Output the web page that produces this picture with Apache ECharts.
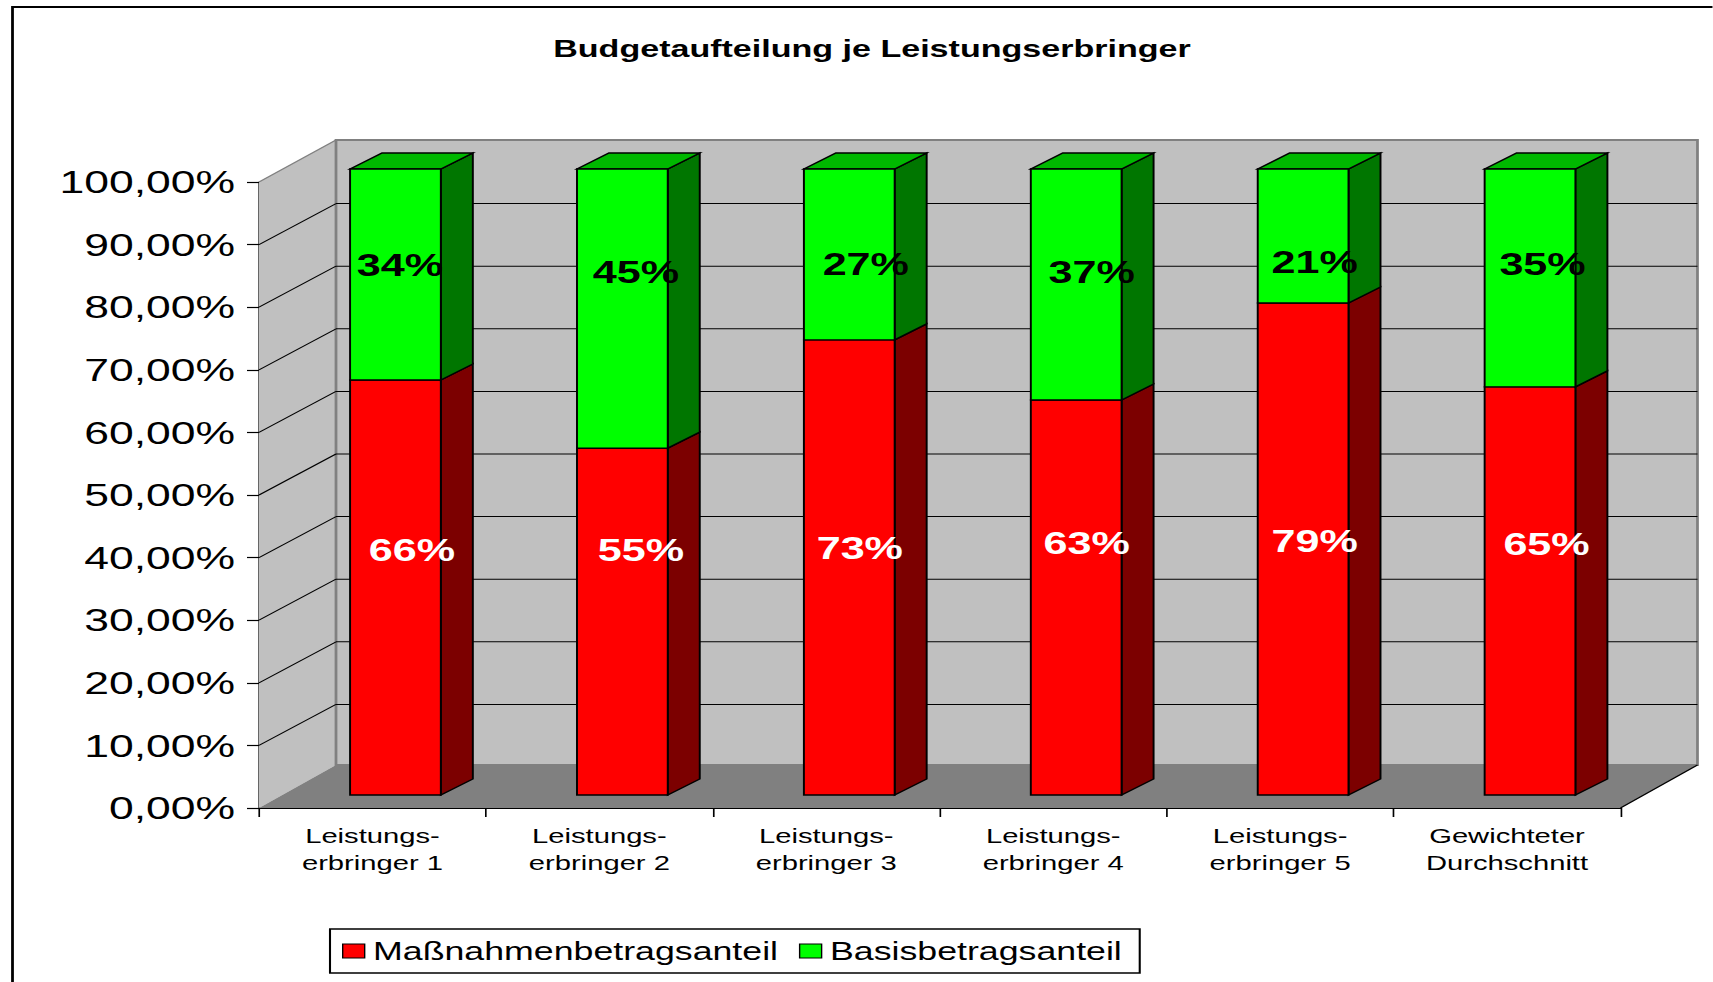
<!DOCTYPE html>
<html><head><meta charset="utf-8">
<style>
html,body{margin:0;padding:0;background:#fff;overflow:hidden;width:1713px;height:982px}
#chart{position:absolute;left:0;top:0;height:982px;transform-origin:0 0}
</style>
<script src="https://cdn.jsdelivr.net/npm/echarts@6/dist/echarts.min.js"></script>
</head><body><div id="chart"></div>
<script>
// --- data ---
const chartTitle = 'Budgetaufteilung je Leistungserbringer';
const categories = ['Leistungs-\nerbringer 1','Leistungs-\nerbringer 2','Leistungs-\nerbringer 3','Leistungs-\nerbringer 4','Leistungs-\nerbringer 5','Gewichteter\nDurchschnitt'];
const massnahmenValues = [66.3, 55.4, 72.7, 63.1, 78.6, 65.2];
const basisValues = [33.7, 44.6, 27.3, 36.9, 21.4, 34.8];
const yTicks = [10,20,30,40,50,60,70,80,90];
// --- label nudges relative to each segment's centre, in page pixels ---
const redNudgeX = [16.5,18.5,10.5,10.5,11.5,16.5];
const redNudgeY = [-37,-71,-19,-54,-8,-47];
const greenNudgeX = [4.5,13.5,16.5,15.5,11.5,12.5];
const greenNudgeY = [-9,-36,10,-12,26,-14];

// The reference is horizontally stretched: lay out in narrower space, widen with CSS.
const S = 1.39;
const px = v => v / S;
const el = document.getElementById('chart');
el.style.width = (1713 / S) + 'px';
el.style.transform = 'scaleX(' + S + ')';
const chart = echarts.init(el, null, {renderer:'svg'});

const WALL_DX = px(77), WALL_TOP_DY = -42, WALL_FLOOR_DY = -43, WALL_GRID_DY = -41;
const BAR_OX = px(23), BAR_OY = -13;
const BAR_DX = px(32), BAR_DY = -16;

function poly(points, fill, stroke, lw, z2){
  return {type:'polygon', shape:{points}, z2:z2||1, style:{fill, stroke:stroke||'none', lineWidth:lw||0}};
}
function line(a, b, stroke, lw, z2){
  return {type:'line', shape:{x1:a[0],y1:a[1],x2:b[0],y2:b[1]}, z2:z2||2, style:{stroke, lineWidth:lw||1}};
}

function renderWalls(params, api){
  const cs = params.coordSys;
  const x0 = cs.x, x1 = cs.x + cs.width;
  const y0 = api.coord([0,0])[1], y100 = api.coord([0,100])[1];
  const kids = [
    poly([[x0,y100],[x0+WALL_DX,y100+WALL_TOP_DY],[x0+WALL_DX,y0+WALL_FLOOR_DY],[x0,y0]],'#c0c0c0'),
    poly([[x0+WALL_DX,y100+WALL_TOP_DY],[x1+WALL_DX,y100+WALL_TOP_DY],[x1+WALL_DX,y0+WALL_FLOOR_DY],[x0+WALL_DX,y0+WALL_FLOOR_DY]],'#c0c0c0','#808080',2),
    poly([[x0,y0],[x1,y0],[x1+WALL_DX,y0+WALL_FLOOR_DY],[x0+WALL_DX,y0+WALL_FLOOR_DY]],'#808080'),
    line([x0,y100],[x0+WALL_DX,y100+WALL_TOP_DY],'#808080',1),
    line([x1,y0],[x1+WALL_DX,y0+WALL_FLOOR_DY],'#000',1)
  ];
  yTicks.forEach(t=>{
    const y = api.coord([0,t])[1];
    kids.push(line([x0,y],[x0+WALL_DX,y+WALL_GRID_DY],'#000',1));
    kids.push(line([x0+WALL_DX,y+WALL_GRID_DY],[x1+WALL_DX,y+WALL_GRID_DY],'#000',1));
  });
  return {type:'group', children:kids};
}

function makeBarRenderer(front, side, top, textColor, nudgeX, nudgeY, drawTop){
  return function(params, api){
    const i = api.value(0), a = api.value(1), b = api.value(2);
    const pa = api.coord([i,a]), pb = api.coord([i,b]);
    const w = api.size([1,0])[0]*0.4;
    const xl = pa[0]-w/2+BAR_OX, xr = xl+w;
    const yb = pa[1]+BAR_OY, yt = pb[1]+BAR_OY;
    const kids = [
      poly([[xr,yb],[xr+BAR_DX,yb+BAR_DY],[xr+BAR_DX,yt+BAR_DY],[xr,yt]],side,'#000',1.4,2),
      poly([[xl,yb],[xr,yb],[xr,yt],[xl,yt]],front,'#000',1.4,3)
    ];
    if(drawTop) kids.push(poly([[xl,yt],[xr,yt],[xr+BAR_DX,yt+BAR_DY],[xl+BAR_DX,yt+BAR_DY]],top,'#000',1.4,2));
    kids.push({type:'text', z2:10, style:{
      x:(xl+xr)/2+px(nudgeX[i]), y:(yb+yt)/2+nudgeY[i],
      text:Math.round(b-a)+'%', fill:textColor, align:'center', verticalAlign:'middle',
      font:'bold 31px "Liberation Sans", Arial, sans-serif'}});
    return {type:'group', children:kids};
  };
}

const redData = massnahmenValues.map((v,i)=>[i,0,v]);
const greenData = basisValues.map((v,i)=>[i,massnahmenValues[i],massnahmenValues[i]+v]);
const FONT = '"Liberation Sans", Arial, sans-serif';

chart.setOption({
  animation:false,
  backgroundColor:'#fff',
  title:{text:chartTitle, left:px(865), top:31, textAlign:'center',
    textStyle:{fontFamily:FONT, fontSize:24.5, fontWeight:'bold', color:'#000'}},
  legend:{
    data:['Maßnahmenbetragsanteil','Basisbetragsanteil'],
    left:px(330), top:929, orient:'horizontal',
    padding:[9,px(18),9,px(12)],
    itemWidth:px(22), itemHeight:14, itemGap:px(21),
    icon:'rect', borderColor:'#000', borderWidth:1.5,
    backgroundColor:'#fff',
    itemStyle:{borderColor:'#000', borderWidth:1},
    textStyle:{fontFamily:FONT, fontSize:25.7, color:'#000', padding:[0,0,0,1]}
  },
  grid:{left:px(259), right:px(92), top:182, bottom:174, containLabel:false},
  xAxis:{type:'category', data:categories, boundaryGap:true,
    axisLine:{show:true, lineStyle:{color:'#000', width:1.2}},
    axisTick:{show:true, length:9, alignWithLabel:false, lineStyle:{color:'#000', width:1.2}},
    axisLabel:{interval:0, fontFamily:FONT, fontSize:21, lineHeight:27, color:'#000', margin:14, hideOverlap:false},
    splitLine:{show:false}},
  yAxis:{type:'value', min:0, max:100, interval:10,
    axisLine:{show:true, lineStyle:{color:'#000', width:1.2}},
    axisTick:{show:true, length:px(12), lineStyle:{color:'#000', width:1.2}},
    axisLabel:{fontFamily:FONT, fontSize:32, color:'#000', margin:px(24),
      formatter:v=>v.toFixed(2).replace('.',',')+'%'},
    splitLine:{show:false}},
  graphic:[
    {type:'polyline', silent:true, z:100, shape:{points:[[px(12.5),982],[px(12.5),7],[1713/S,7]]},
     style:{stroke:'#000', lineWidth:2, fill:'none'}}
  ],
  series:[
    {type:'custom', name:'wall', silent:true, z:1, clip:false, data:[[0]], renderItem:renderWalls, encode:{x:0}},
    {type:'custom', name:'Maßnahmenbetragsanteil', z:2, clip:false, itemStyle:{color:'#ff0000'},
      data:redData, encode:{x:0,y:[1,2]},
      renderItem:makeBarRenderer('#ff0000','#7c0000','#7c0000','#fff',redNudgeX,redNudgeY,false)},
    {type:'custom', name:'Basisbetragsanteil', z:3, clip:false, itemStyle:{color:'#00ff00'},
      data:greenData, encode:{x:0,y:[1,2]},
      renderItem:makeBarRenderer('#00ff00','#007600','#00b800','#000',greenNudgeX,greenNudgeY,true)}
  ]
});
</script>
</body></html>
